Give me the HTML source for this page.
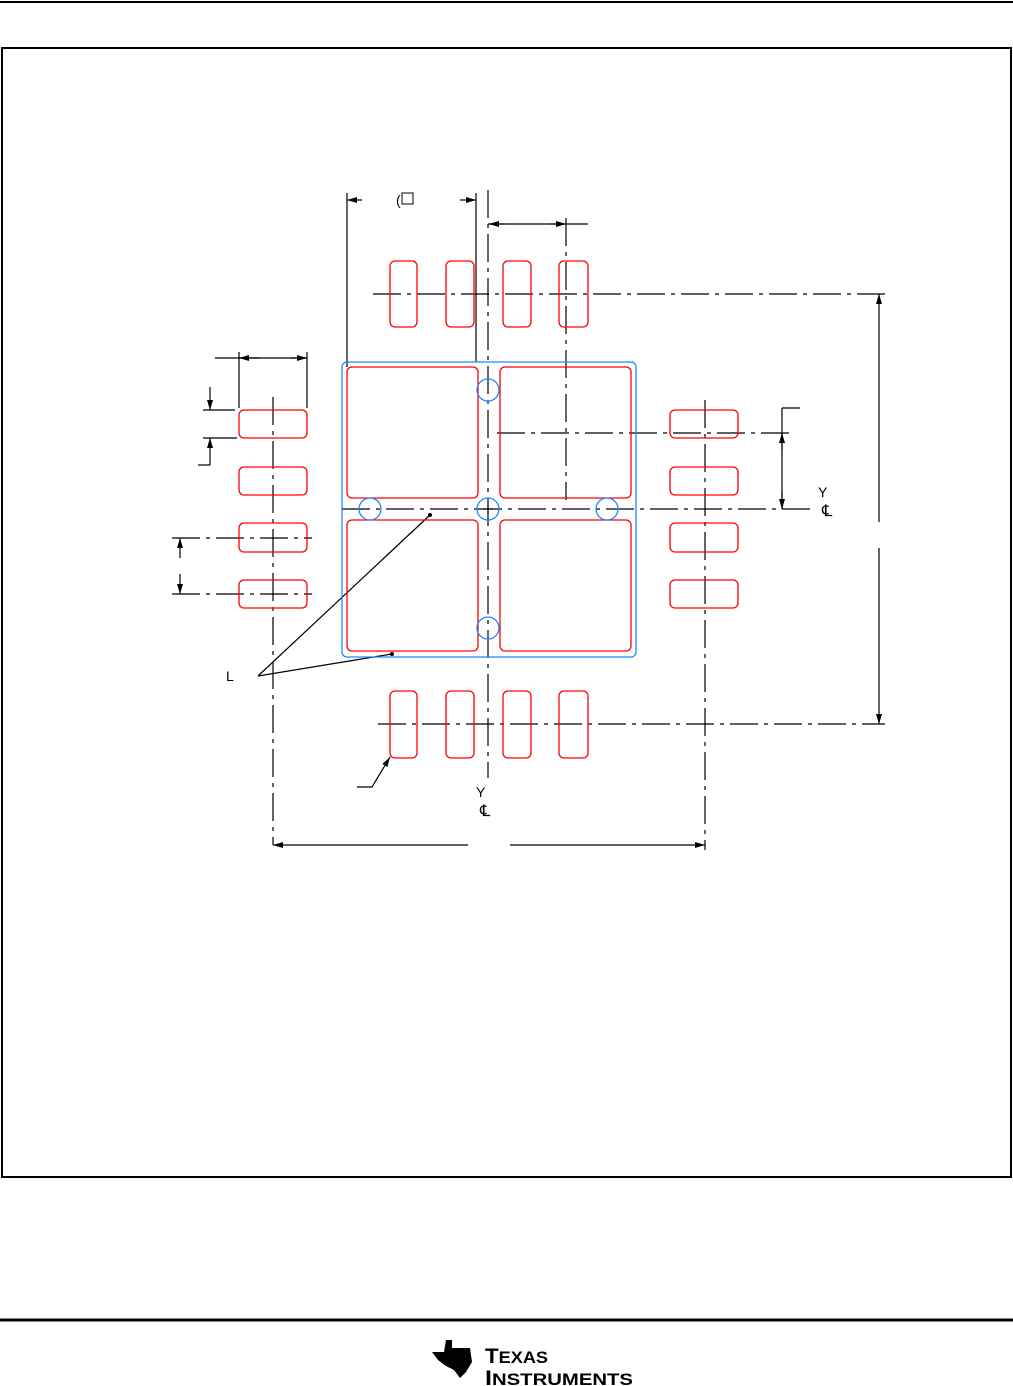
<!DOCTYPE html><html><head><style>body{margin:0;background:#fff}svg{display:block}text{font-family:"Liberation Sans",sans-serif}</style></head><body>
<svg width="1013" height="1386" viewBox="0 0 1013 1386">
<defs><marker id="a" markerWidth="10" markerHeight="6" refX="10" refY="3" orient="auto" markerUnits="userSpaceOnUse"><path d="M0,0 L10,3 L0,6z" fill="#000"/></marker></defs>
<line x1="0" y1="2" x2="1013" y2="2" stroke="#000" stroke-width="2"/>
<rect x="2" y="48" width="1009" height="1129" fill="none" stroke="#000" stroke-width="2"/>
<line x1="0" y1="1320" x2="1013" y2="1320" stroke="#000" stroke-width="3"/>
<g fill="none" stroke="#000" stroke-width="1.2">
<g stroke-dasharray="28,6,4,6">
<line x1="373" y1="294" x2="885" y2="294"/><line x1="378" y1="724" x2="885" y2="724"/>
<line x1="273" y1="397" x2="273" y2="845"/><line x1="705" y1="400" x2="705" y2="850"/>
<line x1="488" y1="190" x2="488" y2="778"/><line x1="342" y1="509" x2="815" y2="509"/>
<line x1="566" y1="218" x2="566" y2="500"/><line x1="497" y1="433" x2="795" y2="433"/>
<line x1="172" y1="538" x2="312" y2="538"/><line x1="172" y1="594" x2="312" y2="594"/>
</g>
<line x1="347" y1="193" x2="347" y2="367"/><line x1="476" y1="193" x2="476" y2="362"/>
<line x1="362" y1="200" x2="347" y2="200" marker-end="url(#a)"/><line x1="460" y1="200" x2="476" y2="200" marker-end="url(#a)"/>
<line x1="488" y1="224" x2="588" y2="224"/><line x1="505" y1="224" x2="489" y2="224" marker-end="url(#a)"/><line x1="550" y1="224" x2="566" y2="224" marker-end="url(#a)"/>
<line x1="239" y1="352" x2="239" y2="408"/><line x1="307" y1="352" x2="307" y2="408"/>
<line x1="215" y1="358" x2="307" y2="358"/><line x1="260" y1="358" x2="239" y2="358" marker-end="url(#a)"/><line x1="290" y1="358" x2="307" y2="358" marker-end="url(#a)"/>
<line x1="210" y1="387" x2="210" y2="410" marker-end="url(#a)"/><line x1="203" y1="410" x2="235" y2="410"/>
<line x1="203" y1="438" x2="237" y2="438"/><line x1="210" y1="465" x2="210" y2="438" marker-end="url(#a)"/><line x1="198" y1="465" x2="210" y2="465"/>
<line x1="180" y1="558" x2="180" y2="538" marker-end="url(#a)"/><line x1="180" y1="574" x2="180" y2="594" marker-end="url(#a)"/>
<line x1="782" y1="408" x2="800" y2="408"/><line x1="782" y1="408" x2="782" y2="509"/>
<line x1="782" y1="450" x2="782" y2="433" marker-end="url(#a)"/><line x1="782" y1="492" x2="782" y2="509" marker-end="url(#a)"/>
<line x1="879" y1="522" x2="879" y2="294" marker-end="url(#a)"/><line x1="879" y1="548" x2="879" y2="724" marker-end="url(#a)"/>
<line x1="468" y1="845" x2="273" y2="845" marker-end="url(#a)"/><line x1="510" y1="845" x2="705" y2="845" marker-end="url(#a)"/>
<line x1="258" y1="676" x2="430" y2="515"/><line x1="258" y1="676" x2="392" y2="654"/>
<polyline points="357,787 372,787 390,757" marker-end="url(#a)"/>
<line x1="483" y1="509" x2="493" y2="509"/><line x1="488" y1="504" x2="488" y2="514"/>
</g>
<circle cx="430" cy="515" r="2"/><circle cx="392" cy="654" r="2"/>
<g fill="none" stroke="#f00" stroke-width="1.3">
<rect x="390" y="261" width="27" height="66" rx="5"/><rect x="446" y="261" width="28" height="66" rx="5"/><rect x="503" y="261" width="28" height="66" rx="5"/><rect x="559" y="261" width="29" height="66" rx="5"/>
<rect x="390" y="691" width="27" height="67" rx="5"/><rect x="446" y="691" width="28" height="67" rx="5"/><rect x="503" y="691" width="28" height="67" rx="5"/><rect x="559" y="691" width="29" height="67" rx="5"/>
<rect x="239" y="410" width="68" height="28" rx="5"/><rect x="239" y="467" width="68" height="28" rx="5"/><rect x="239" y="523" width="68" height="29" rx="5"/><rect x="239" y="580" width="68" height="28" rx="5"/>
<rect x="670" y="410" width="68" height="28" rx="5"/><rect x="670" y="467" width="68" height="28" rx="5"/><rect x="670" y="523" width="68" height="29" rx="5"/><rect x="670" y="580" width="68" height="28" rx="5"/>
<rect x="347" y="367" width="131" height="131" rx="5"/><rect x="500" y="367" width="131" height="131" rx="5"/><rect x="347" y="520" width="131" height="131" rx="5"/><rect x="500" y="520" width="131" height="131" rx="5"/>
</g>
<g fill="none" stroke="#1e88ff" stroke-width="1.3">
<rect x="342" y="362" width="294" height="295" rx="5"/>
<circle cx="488" cy="390" r="11"/><circle cx="370" cy="509" r="11"/><circle cx="488" cy="509" r="11"/><circle cx="607" cy="509" r="11"/><circle cx="488" cy="628" r="11"/>
</g>
<text x="396" y="205" font-size="14">(</text><rect x="402" y="193" width="11" height="11" fill="none" stroke="#000"/>
<text x="226" y="681" font-size="14">L</text>
<text x="818" y="497" font-size="14">Y</text><text x="822" y="516" font-size="16">℄</text>
<text x="476" y="797" font-size="14">Y</text><text x="480" y="816" font-size="16">℄</text>
<path d="M432,1352 L444,1352 L446,1340 L452,1340 L452,1348 L470,1348 L472,1362 L466,1372 L460,1378 L454,1370 L446,1366 L438,1360z" fill="#000"/>
<text x="485" y="1363" font-size="21" font-family="Liberation Serif" font-weight="bold" textLength="63" lengthAdjust="spacingAndGlyphs">T<tspan font-size="17">EXAS</tspan></text>
<text x="485" y="1385" font-size="21" font-family="Liberation Serif" font-weight="bold" textLength="148" lengthAdjust="spacingAndGlyphs">I<tspan font-size="17">NSTRUMENTS</tspan></text>
</svg></body></html>
